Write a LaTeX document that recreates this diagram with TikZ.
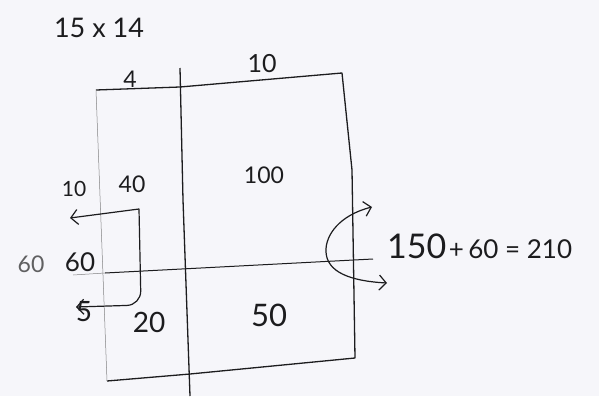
\documentclass[tikz,border=0pt]{standalone}
\usepackage{fontspec}
\setmainfont{Lato}
\usetikzlibrary{arrows.meta}
\definecolor{paper}{RGB}{246,246,250}
\definecolor{pen}{RGB}{28,28,30}

\begin{document}
\begin{tikzpicture}[
    x=1pt, y=-1pt,
    >={Straight Barb[length=7pt, width=15pt, line width=1.2pt]},
    every node/.style={text=pen, inner sep=0pt},
    grid/.style={pen, line width=1.3pt, line join=round},
    faint/.style={pen!55, line width=0.5pt},
    hand/.style={pen, line width=1.2pt, line join=round},
    num/.style={font=\fontsize{23}{23}\selectfont},
    big/.style={font=\fontsize{28}{28}\selectfont},
]

% ============================================================
% Paper
% ============================================================
\fill[paper] (0,0) rectangle (599,396);
\useasboundingbox (0,0) rectangle (599,396);

% ============================================================
% Grid: outer box + split lines
% ============================================================
\draw[grid] (96,90) -- (180,87) -- (342,73) -- (352,170) -- (355,358) -- (190,374) -- (107,381);
% Left edge (faint pencil)
\draw[faint] (96,90) -- (107,381);
% Vertical split
\draw[grid] (180,68) -- (183,200) -- (190,396);
% Horizontal split
\draw[faint] (73,275) -- (105,273);
\draw[grid, line width=1pt] (105,273) -- (373,259);

% ============================================================
% Labels
% ============================================================
\node[num, font=\fontsize{27}{27}\selectfont] (title) at (99,28) {15 x 14};
\node[num] (colA) at (130,79) {4};
\node[num, font=\fontsize{25}{25}\selectfont] (colB) at (262,64) {10};
\node[num, font=\fontsize{21}{21}\selectfont] (ten) at (74,189) {10};
\node[num] (forty) at (132,184) {40};
\node[num] (hundred) at (264,175) {100};
\node[num, text=pen!70] (sixtyA) at (31,264) {60};
\node[num, font=\fontsize{26}{26}\selectfont] (sixty) at (80,262) {60};
\node[big] (five) at (84,312) {5};
\node[big] (twenty) at (149,322) {20};
\node[big, font=\fontsize{31}{31}\selectfont] (fifty) at (269,315) {50};
\node[anchor=west] (sum) at (387,246)
    {{\fontsize{34}{34}\selectfont 150}\ {\fontsize{26}{26}\selectfont +\,60 = 210}};

% ============================================================
% Hand-drawn arrows
% ============================================================
\coordinate (lt) at (70,218);
\coordinate (lb) at (76,307);
\draw[hand, <->] (lt) -- (139,209) [rounded corners=14pt] -- (141,305) -- (lb);

\coordinate (rt) at (372,207);
\coordinate (rb) at (387,283);
\draw[hand, <->] (rt) .. controls (340,215) and (325,235) .. (326,252)
    .. controls (327,272) and (350,281) .. (rb);

\end{tikzpicture}
\end{document}
